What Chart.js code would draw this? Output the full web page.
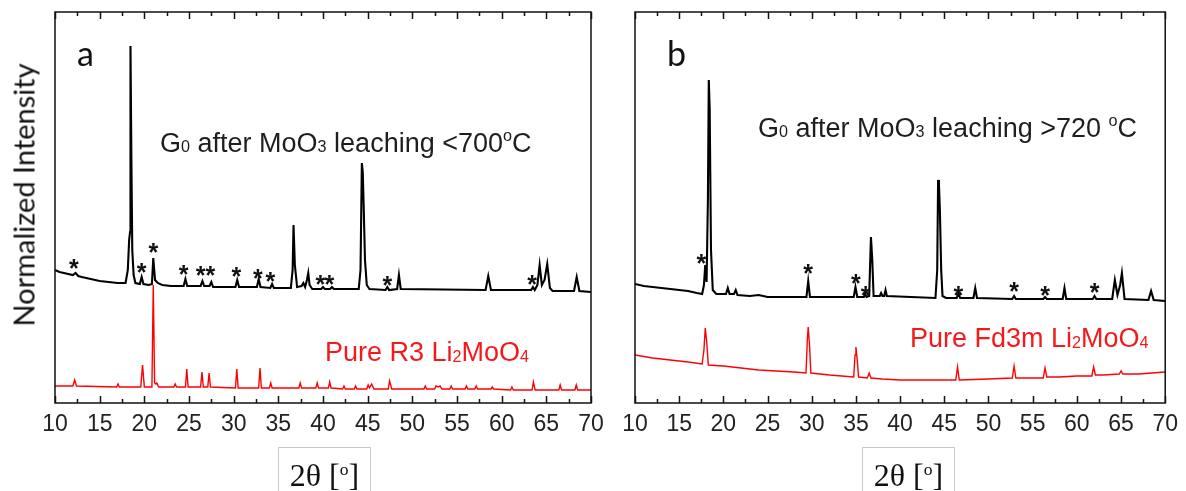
<!DOCTYPE html>
<html>
<head>
<meta charset="utf-8">
<title>XRD</title>
<script src="https://cdn.jsdelivr.net/npm/chart.js@4.4.0/dist/chart.umd.min.js"></script>
<style>
body { margin:0; width:1186px; height:491px; background:#fff; position:relative; overflow:hidden; }
canvas { position:absolute; top:0; }
.t { position:absolute; white-space:nowrap; line-height:1; font-family:"Liberation Sans", Arial, sans-serif; font-size:27px; color:#1e1e1e; }
.red { color:#f21a1a; }
.sub { font-size:0.6em; position:relative; top:0.05em; }
.deg { font-size:0.6em; vertical-align:0.65em; }
.pan { font-family:Lato, sans-serif; font-size:34px; color:#111; }
.ylab { position:absolute; left:23px; top:195px; white-space:nowrap; font-family:Lato, sans-serif; font-size:29px; line-height:1; color:#111;
        transform:translate(-50%, -50%) rotate(-90deg); }
.xlab { position:absolute; top:447px; height:60px; border:1px solid #c8c8c8; font-family:"Liberation Serif", "Times New Roman", serif;
        font-size:32px; text-align:center; line-height:42px; color:#111; box-sizing:border-box; }
.xlab .o { font-size:0.55em; vertical-align:0.6em; }
</style>
</head>
<body>
<canvas id="chartA" width="613" height="450" style="left:0"></canvas>
<canvas id="chartB" width="573" height="450" style="left:613px"></canvas>

<div class="t pan" style="left:77px;top:36px">a</div>
<div class="t pan" style="left:667px;top:36px">b</div>
<div class="t" style="left:160px;top:127px">G<span class="sub">0</span> after MoO<span class="sub">3</span> leaching &lt;700<span class="deg">o</span>C</div>
<div class="t" style="left:758px;top:112px">G<span class="sub">0</span> after MoO<span class="sub">3</span> leaching &gt;720 <span class="deg">o</span>C</div>
<div class="t red" style="left:325px;top:339px">Pure R3 Li<span class="sub">2</span>MoO<span class="sub">4</span></div>
<div class="t red" style="left:910px;top:325px">Pure Fd3m Li<span class="sub">2</span>MoO<span class="sub">4</span></div>
<div class="ylab">Normalized Intensity</div>
<div class="xlab" style="left:278px;width:93px">2θ [<span class="o">o</span>]</div>
<div class="xlab" style="left:862px;width:93px">2θ [<span class="o">o</span>]</div>

<script>
// x tick labels
var tickValues = [10, 15, 20, 25, 30, 35, 40, 45, 50, 55, 60, 65, 70];

// panel a: G0 after leaching < 700 C (black)
var aBlackAngle = [10, 10.5, 11, 12, 12.3, 12.6, 13, 14, 15, 16, 17, 17.9, 18.15, 18.3, 18.4, 18.45, 18.55, 18.65, 18.8, 19.0,
    19.5, 19.7, 19.9, 20.5, 20.85, 21.0, 21.2, 21.5, 22, 23, 24.4, 24.6, 24.8, 26.3, 26.5, 26.7, 27.3, 27.5, 27.7,
    30.2, 30.4, 30.6, 32.6, 32.8, 33.0, 34.1, 34.3, 34.5, 36.4, 36.6, 36.7, 36.85, 37.1, 37.6, 37.8, 38.0, 38.2, 38.35,
    38.5, 38.8, 39.8, 40.0, 40.2, 40.8, 41.0, 41.2, 44.0, 44.2, 44.35, 44.45, 44.55, 44.7, 44.9, 45.2, 47.0, 47.2, 47.4,
    48.3, 48.5, 48.7, 58.2, 58.5, 58.8, 63.3, 63.5, 63.7, 64.0, 64.25, 64.5, 64.8, 65.1, 65.4, 65.7, 68.1, 68.4, 68.7, 70];
var aBlackInt = [133, 131, 130, 128, 130, 127, 126, 124, 122, 121, 120, 120, 133, 163, 171, 357, 243, 153, 128, 120,
    119, 126, 119, 118, 119, 145, 123, 120, 118, 117, 117, 124, 117, 117, 122, 117, 117, 121, 116,
    116, 123, 116, 116, 124, 116, 115, 119, 115, 115, 133, 178, 138, 116, 117, 120, 116, 123, 130,
    118, 114, 114, 116, 114, 114, 116, 114, 114, 133, 240, 231, 198, 143, 118, 114, 113, 116, 113,
    114, 128, 114, 113, 127, 113, 113, 116, 113, 118, 138, 118, 123, 139, 115, 112, 112, 126, 112, 111];

// panel a: pure R3 Li2MoO4 (red)
var aRedAngle = [10, 12.0, 12.2, 12.4, 16.9, 17.05, 17.2, 19.6, 19.8, 20.0, 20.85, 21.0, 21.15, 21.3, 21.4, 21.6,
    23.3, 23.45, 23.6, 24.6, 24.75, 24.9, 26.3, 26.45, 26.6, 27.1, 27.25, 27.4, 30.2, 30.35, 30.5, 32.8, 32.95, 33.1,
    34.0, 34.15, 34.3, 37.3, 37.45, 37.6, 39.2, 39.35, 39.5, 40.6, 40.75, 40.9, 42.2, 42.35, 42.5, 43.5, 43.65, 43.8,
    44.9, 45.05, 45.2, 45.45, 45.7, 47.3, 47.45, 47.7, 51.3, 51.45, 51.6, 52.5, 52.65, 52.9, 53.1, 53.3, 54.2, 54.35, 54.5,
    55.9, 56.05, 56.2, 57.0, 57.15, 57.3, 58.8, 58.95, 59.1, 61.0, 61.15, 61.3, 63.4, 63.55, 63.75, 66.4, 66.55, 66.7,
    68.2, 68.35, 68.5, 70];
var aRedInt = [17, 17, 23, 17, 16, 19, 16, 16, 38, 16, 16, 118, 20, 19, 20, 16,
    16, 19, 16, 16, 34, 16, 16, 31, 16, 16, 30, 16, 15, 34, 15, 15, 35, 15,
    15, 20, 15, 15, 20, 15, 15, 20, 15, 15, 21, 15, 14, 17, 14, 14, 17, 14,
    14, 18, 15, 19, 14, 14, 22, 14, 14, 17, 14, 14, 17, 16, 17, 14, 14, 17, 14,
    14, 17, 14, 14, 17, 14, 14, 16, 14, 13, 16, 13, 13, 21, 13, 13, 18, 13,
    13, 18, 13, 13];

var aStarAngle = [12.1, 19.7, 21.0, 24.4, 26.3, 27.4, 30.3, 32.7, 34.1, 39.7, 40.7, 47.2, 63.4];
var aStarInt = [140, 136, 156, 134, 133, 133, 132, 130, 127, 124, 124, 123, 124];

// panel b: G0 after leaching > 720 C (black)
var bBlackAngle = [10, 11, 12, 13, 14, 15, 16, 17, 17.6, 17.8, 17.95, 18.1, 18.25, 18.35, 18.45, 18.6, 18.8, 19.2,
    20.3, 20.5, 20.7, 21.2, 21.4, 21.6, 23, 24, 25, 29.4, 29.6, 29.8, 34.75, 34.95, 35.15, 35.9, 36.05, 36.2,
    36.5, 36.7, 36.85, 37.0, 37.7, 37.85, 38.0, 38.2, 38.35, 38.5, 44.0, 44.2, 44.3, 44.4, 44.5, 44.65, 44.8, 45.2,
    46.4, 46.6, 46.8, 48.3, 48.5, 48.7, 52.7, 52.9, 53.1, 56.2, 56.4, 56.6, 58.4, 58.6, 58.8, 61.8, 62.0, 62.2,
    64.0, 64.3, 64.6, 64.9, 65.1, 65.4, 68.1, 68.4, 68.7, 70];
var bBlackInt = [119, 117, 116, 115, 114, 113, 112, 110, 109, 118, 138, 121, 203, 323, 295, 153, 113, 109,
    109, 115, 109, 109, 113, 108, 107, 108, 106, 106, 122, 106, 106, 116, 106, 106, 109, 106,
    107, 166, 143, 107, 107, 110, 107, 107, 113, 107, 105, 133, 223, 218, 193, 133, 107, 105,
    105, 109, 105, 105, 115, 105, 104, 107, 104, 104, 106, 104, 104, 115, 104, 104, 107, 104,
    104, 123, 108, 118, 130, 104, 103, 112, 103, 102];

// panel b: pure Fd3m Li2MoO4 (red)
var bRedAngle = [10, 12, 14, 16, 17.6, 17.8, 17.95, 18.1, 18.3, 20, 22, 24, 26, 28, 29.35, 29.5, 29.6, 29.75, 29.9,
    32, 34.75, 34.9, 35.0, 35.15, 35.3, 36.3, 36.5, 36.7, 38, 40, 44, 46.3, 46.5, 46.7, 50, 52.7, 52.9, 53.1,
    56.2, 56.4, 56.6, 58, 60, 61.7, 61.9, 62.1, 63, 64.8, 65.0, 65.2, 67, 70];
var bRedInt = [48, 45, 43, 41, 39, 53, 75, 63, 38, 37, 35, 33, 32, 31, 30, 63, 76, 58, 30,
    28, 26, 48, 56, 43, 26, 25, 30, 25, 24, 23, 23, 23, 36, 23, 24, 25, 37, 25,
    25, 35, 26, 26, 27, 27, 36, 28, 28, 29, 32, 29, 29, 31];

var bStarAngle = [17.5, 29.6, 35.0, 36.1, 46.6, 52.9, 56.4, 62.0];
var bStarInt = [145, 135, 125, 113, 113, 117, 113, 116];

function toPoints(xs, ys) {
    return xs.map(function (x, i) { return { x: x, y: ys[i] }; });
}

// box round the plot with inward ticks top and bottom
var framePlugin = {
    id: 'frame',
    afterDraw: function (chart) {
        var ctx = chart.ctx;
        var a = chart.chartArea;
        var xs = chart.scales.x;
        ctx.save();
        ctx.strokeStyle = '#111';
        ctx.lineWidth = 1.5;
        ctx.strokeRect(a.left, a.top, a.right - a.left, a.bottom - a.top);
        ctx.beginPath();
        for (var v = 10; v <= 70; v += 2.5) {
            var px = Math.round(xs.getPixelForValue(v)) + 0.5;
            var len = (v % 5 === 0) ? 7 : 4;
            ctx.moveTo(px, a.bottom);
            ctx.lineTo(px, a.bottom - len);
            ctx.moveTo(px, a.top);
            ctx.lineTo(px, a.top + len);
        }
        ctx.stroke();
        ctx.restore();
    }
};

var starPlugin = {
    id: 'stars',
    afterDatasetsDraw: function (chart, args, opts) {
        var ctx = chart.ctx;
        ctx.save();
        ctx.fillStyle = '#111';
        ctx.font = 'bold 25px "Liberation Sans"';
        ctx.textAlign = 'center';
        ctx.textBaseline = 'alphabetic';
        opts.angle.forEach(function (x, i) {
            var px = chart.scales.x.getPixelForValue(x);
            var py = chart.scales.y.getPixelForValue(opts.intensity[i]);
            ctx.fillText('*', px, py + 14);
        });
        ctx.restore();
    }
};

function makeChart(id, black, red, stars, pad) {
    return new Chart(document.getElementById(id), {
        type: 'line',
        data: {
            datasets: [{
                data: black,
                borderColor: '#000',
                borderWidth: 2.1,
                pointRadius: 0,
                tension: 0
            }, {
                data: red,
                borderColor: '#ff0000',
                borderWidth: 1.4,
                pointRadius: 0,
                tension: 0
            }]
        },
        options: {
            responsive: false,
            animation: false,
            devicePixelRatio: 1,
            layout: { padding: pad },
            plugins: {
                legend: { display: false },
                tooltip: { enabled: false },
                stars: stars
            },
            scales: {
                x: {
                    type: 'linear',
                    min: 10,
                    max: 70,
                    afterBuildTicks: function (scale) {
                        scale.ticks = tickValues.map(function (v) { return { value: v }; });
                    },
                    afterFit: function (scale) { scale.height = 40; },
                    grid: { display: false, drawTicks: false },
                    border: { display: false },
                    ticks: {
                        padding: 8,
                        color: '#222',
                        maxRotation: 0,
                        autoSkip: false,
                        font: { family: 'Liberation Sans', size: 23 }
                    }
                },
                y: {
                    display: false,
                    min: 0,
                    max: 391
                }
            }
        },
        plugins: [framePlugin, starPlugin]
    });
}

makeChart('chartA', toPoints(aBlackAngle, aBlackInt), toPoints(aRedAngle, aRedInt),
    { angle: aStarAngle, intensity: aStarInt }, { left: 55, right: 22, top: 12, bottom: 7 });
makeChart('chartB', toPoints(bBlackAngle, bBlackInt), toPoints(bRedAngle, bRedInt),
    { angle: bStarAngle, intensity: bStarInt }, { left: 22, right: 16, top: 12, bottom: 7 });
</script>
</body>
</html>
